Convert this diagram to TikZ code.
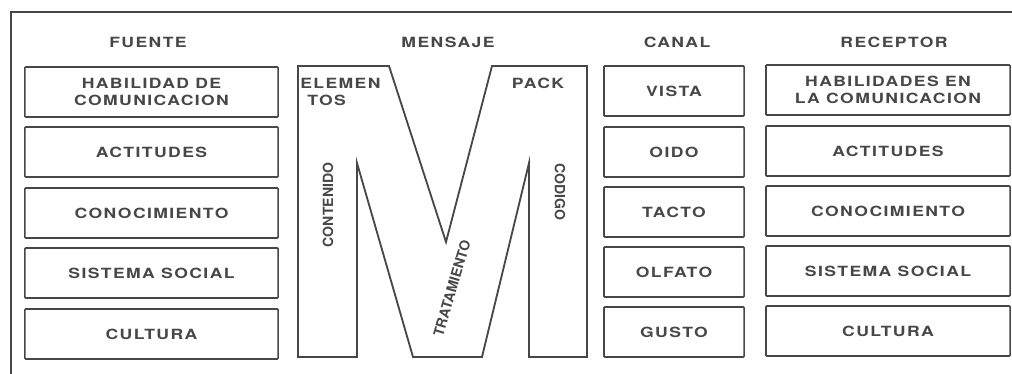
\documentclass[tikz,border=0pt]{standalone}
\usepackage{fontspec}
\newfontfamily\boxfont{TeX Gyre Heros}[FakeStretch=1.25,LetterSpace=10]
\newfontfamily\mlabelfont{TeX Gyre Heros}
\definecolor{inkgray}{HTML}{474747}

\begin{document}
\begin{tikzpicture}[x=0.025cm, y=-0.025cm,
  every node/.style={font=\boxfont\bfseries\fontsize{10}{12}\selectfont, text=inkgray, inner sep=0pt, align=center},
  box/.style={draw=inkgray, line width=1.1pt, rounded corners=0.6pt, minimum height=1.25cm},
  fuentebox/.style={box, minimum width=6.325cm},
  canalbox/.style={box, minimum width=3.5cm},
  receptorbox/.style={box, minimum width=6.1cm},
  mlabel/.style={font=\mlabelfont\bfseries\fontsize{10}{12}\selectfont}]
  \useasboundingbox (0,0) rectangle (1012,374);
  \draw[inkgray, line width=1pt] (11,374) -- (11,12) -- (1012,12);
  \node (fuente) at (148,42) {FUENTE};
  \node (mensaje) at (448,42) {MENSAJE};
  \node (canal) at (677,42) {CANAL};
  \node (receptor) at (894,42) {RECEPTOR};
  \node[fuentebox] (habilidad) at (151.5,92) {HABILIDAD DE\\COMUNICACION};
  \node[fuentebox] (actitudesf) at (151.5,152) {ACTITUDES};
  \node[fuentebox] (conocimientof) at (151.5,213) {CONOCIMIENTO};
  \node[fuentebox] (sistemaf) at (151.5,273) {SISTEMA SOCIAL};
  \node[fuentebox] (culturaf) at (151.5,334) {CULTURA};
  \node[canalbox] (vista) at (674,91) {VISTA};
  \node[canalbox] (oido) at (674,152) {OIDO};
  \node[canalbox] (tacto) at (674,212) {TACTO};
  \node[canalbox] (olfato) at (674,272) {OLFATO};
  \node[canalbox] (gusto) at (674,332) {GUSTO};
  \node[receptorbox] (habilidades) at (888,90) {HABILIDADES EN\\LA COMUNICACION};
  \node[receptorbox] (actitudesr) at (888,151) {ACTITUDES};
  \node[receptorbox] (conocimientor) at (888,211) {CONOCIMIENTO};
  \node[receptorbox] (sistemar) at (888,271) {SISTEMA SOCIAL};
  \node[receptorbox] (culturar) at (888,331) {CULTURA};
  \draw[inkgray, line width=1.3pt, line join=miter] (298,66) -- (389,66) -- (446,242) -- (492,66) -- (587,66)
    -- (587,357) -- (529,357) -- (529,163) -- (482,357) -- (413,357) -- (357,163) -- (357,357) -- (298,357) -- cycle;
  \node[anchor=west] (elemen) at (300,83) {ELEMEN};
  \node[anchor=west] (tos) at (307,100) {TOS};
  \node (pack) at (538,83) {PACK};
  \node[mlabel, rotate=90] (contenido) at (328,205) {CONTENIDO};
  \node[mlabel, rotate=-90] (codigo) at (560,192) {CODIGO};
  \node[mlabel, rotate=73.5] (tratamiento) at (452,288) {TRATAMIENTO};
\end{tikzpicture}
\end{document}
